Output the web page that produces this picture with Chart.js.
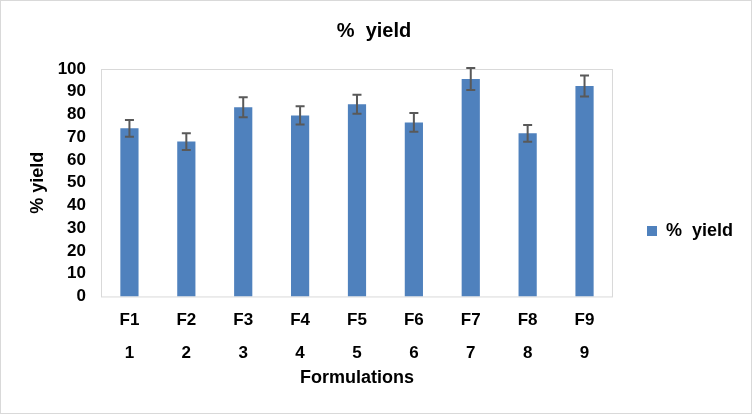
<!DOCTYPE html>
<html lang="en">
<head>
<meta charset="UTF-8">
<title>% yield</title>
<style>
  html, body { margin: 0; padding: 0; background: #fff; }
  .container {
    width: 750px;
    height: 412px;
    border: 1px solid #d9d9d9;
    position: relative;
  }
</style>
</head>
<body>
<div class="container">
  <canvas id="chart"></canvas>
</div>
<script src="https://cdn.jsdelivr.net/npm/chart.js"></script>
<script>
// chart values
const formulations = ["F1", "F2", "F3", "F4", "F5", "F6", "F7", "F8", "F9"];
const runNumbers = ["1", "2", "3", "4", "5", "6", "7", "8", "9"];
const yieldValues = [73.9, 68.1, 83.2, 79.6, 84.5, 76.5, 95.6, 71.7, 92.5];
const yieldErrors = [3.7, 3.7, 4.4, 4.0, 4.2, 4.1, 4.8, 3.7, 4.6];
const yTicks = [0, 10, 20, 30, 40, 50, 60, 70, 80, 90, 100];

const labels = formulations.map((f, i) => [f, runNumbers[i]]);

// simple error bars drawn with the y scale
const errorBars = {
  id: "errorBars",
  afterDatasetsDraw(chart) {
    const ctx = chart.ctx;
    const yScale = chart.scales.y;
    const meta = chart.getDatasetMeta(0);
    ctx.save();
    ctx.strokeStyle = "#595959";
    ctx.lineWidth = 2;
    meta.data.forEach((bar, i) => {
      const v = yieldValues[i];
      const e = yieldErrors[i];
      const top = yScale.getPixelForValue(v + e);
      const bot = yScale.getPixelForValue(v - e);
      const cap = 4.5;
      ctx.beginPath();
      ctx.moveTo(bar.x, top);
      ctx.lineTo(bar.x, bot);
      ctx.moveTo(bar.x - cap, top);
      ctx.lineTo(bar.x + cap, top);
      ctx.moveTo(bar.x - cap, bot);
      ctx.lineTo(bar.x + cap, bot);
      ctx.stroke();
    });
    ctx.restore();
  }
};

// light border round the plot area
const plotBorder = {
  id: "plotBorder",
  beforeDatasetsDraw(chart) {
    const a = chart.chartArea;
    const ctx = chart.ctx;
    ctx.save();
    ctx.strokeStyle = "#d9d9d9";
    ctx.lineWidth = 1;
    ctx.strokeRect(a.left + 0.5, a.top + 0.5, a.right - a.left - 1, a.bottom - a.top);
    ctx.restore();
  }
};

const family = "Liberation Sans, Arial, sans-serif";
const tickFont = { family: family, weight: "bold", size: 17 };
const titleFont = { family: family, weight: "bold", size: 18 };

const ctx = document.getElementById("chart").getContext("2d");
new Chart(ctx, {
  type: "bar",
  data: {
    labels: labels,
    datasets: [{
      label: "%  yield",
      data: yieldValues,
      backgroundColor: "#4f81bd",
      categoryPercentage: 1.0,
      barPercentage: 0.32
    }]
  },
  options: {
    responsive: true,
    maintainAspectRatio: false,
    animation: false,
    layout: { padding: { left: 4, right: 8, top: 6, bottom: 20 } },
    plugins: {
      title: {
        display: true,
        text: "%  yield",
        color: "#000",
        font: { family: family, weight: "bold", size: 20 },
        padding: { top: 12, bottom: 26 }
      },
      legend: {
        display: true,
        position: "right",
        title: { display: true, text: " ", font: { size: 10 }, padding: { top: 25, bottom: 25 } },
        labels: {
          color: "#000",
          font: titleFont,
          boxWidth: 10,
          boxHeight: 10,
          padding: 34
        }
      },
      tooltip: { enabled: false }
    },
    scales: {
      x: {
        grid: { display: false, drawTicks: false },
        border: { display: false },
        ticks: {
          color: "#000",
          font: { family: family, weight: "bold", size: 17, lineHeight: 1.94 },
          padding: 7,
          maxRotation: 0
        },
        title: {
          display: true,
          text: "Formulations",
          color: "#000",
          font: titleFont,
          padding: { top: -9, bottom: 4 }
        }
      },
      y: {
        min: 0,
        max: 100,
        afterBuildTicks(axis) { axis.ticks = yTicks.map(v => ({ value: v })); },
        afterFit(axis) { axis.width = 96; },
        grid: { display: false, drawTicks: false },
        border: { display: false },
        ticks: { color: "#000", font: tickFont, padding: 15, autoSkip: false },
        title: {
          display: true,
          text: "% yield",
          color: "#000",
          font: titleFont,
          padding: { top: 22, bottom: 4 }
        }
      }
    }
  },
  plugins: [plotBorder, errorBars]
});
</script>
</body>
</html>
